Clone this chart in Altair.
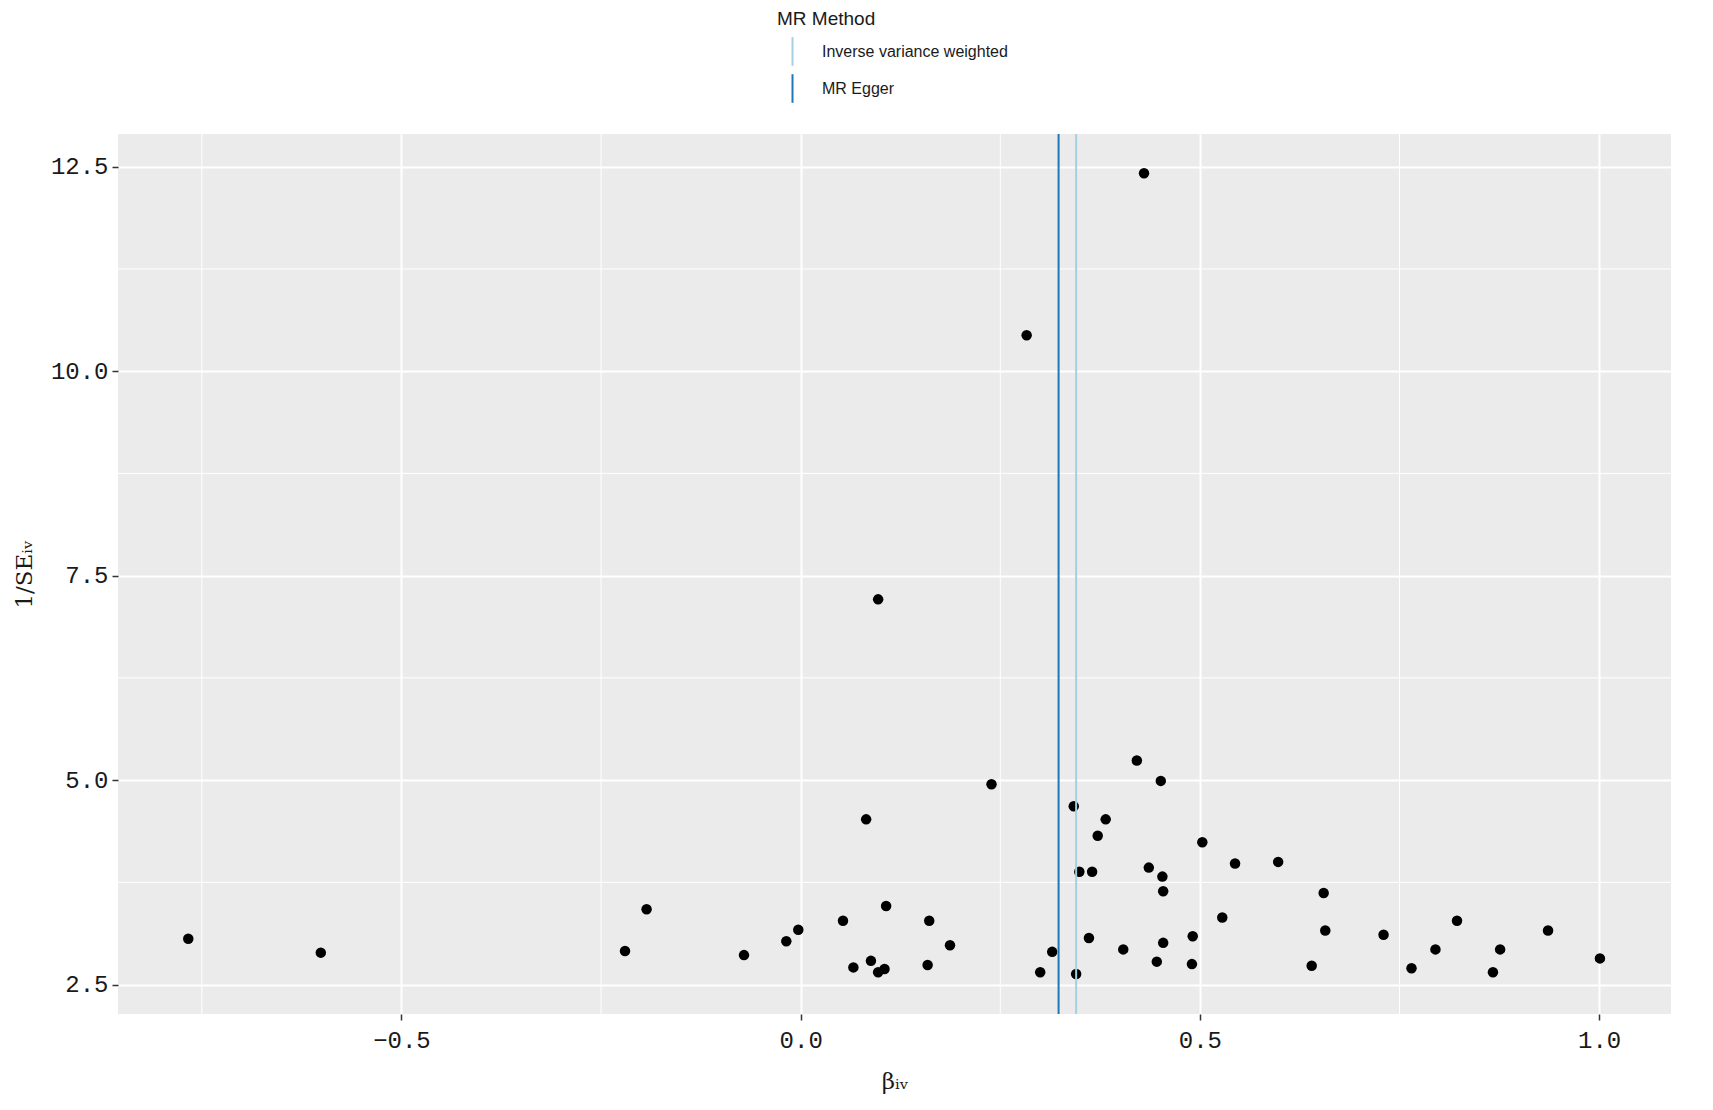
import altair as alt
import pandas as pd

# ---- data ----
beta = [-0.767, -0.601, -0.220, -0.193, -0.071, -0.018, -0.003, 0.053, 0.066, 0.082,
        0.088, 0.097, 0.097, 0.105, 0.107, 0.159, 0.161, 0.187, 0.239, 0.283,
        0.300, 0.315, 0.342, 0.345, 0.349, 0.361, 0.365, 0.372, 0.382, 0.404,
        0.421, 0.430, 0.436, 0.446, 0.451, 0.453, 0.454, 0.454, 0.490, 0.491,
        0.503, 0.528, 0.544, 0.598, 0.640, 0.655, 0.657, 0.730, 0.765, 0.795,
        0.822, 0.867, 0.876, 0.936, 1.001]
inv_se = [3.06, 2.89, 2.91, 3.42, 2.86, 3.03, 3.17, 3.28, 2.71, 4.52,
          2.79, 7.21, 2.65, 2.69, 3.46, 2.74, 3.28, 2.98, 4.95, 10.44,
          2.65, 2.90, 4.68, 2.63, 3.88, 3.07, 3.88, 4.32, 4.52, 2.93,
          5.24, 12.42, 3.93, 2.78, 4.99, 3.82, 3.64, 3.01, 2.75, 3.09,
          4.24, 3.32, 3.98, 4.00, 2.73, 3.62, 3.16, 3.11, 2.70, 2.93,
          3.28, 2.65, 2.93, 3.16, 2.82]
methods = ["Inverse variance weighted", "MR Egger"]
method_b = [0.345, 0.323]
method_colors = ["#A6CEE3", "#1F78B4"]
x_ticks = [-0.5, 0.0, 0.5, 1.0]
y_ticks = [2.5, 5.0, 7.5, 10.0, 12.5]
x_minor = [-0.75, -0.25, 0.25, 0.75]
y_minor = [3.75, 6.25, 8.75, 11.25]

pts = pd.DataFrame({"b": beta, "s": inv_se})
lines = pd.DataFrame({"method": methods, "b": method_b})

xs = alt.Scale(domain=[-0.855, 1.09], nice=False, zero=False)
ys = alt.Scale(domain=[2.14, 12.9], nice=False, zero=False)

x_axis = alt.Axis(title="βᵢᵥ", values=x_ticks, format=".1f", domain=False,
                  tickColor="#333333", tickSize=6, tickWidth=1.5,
                  labelFont="Liberation Mono", labelFontSize=24, labelColor="#1a1a1a",
                  labelPadding=8, titleFont="DejaVu Serif", titleFontSize=23,
                  titleFontWeight="normal", titleColor="#1a1a1a", titlePadding=18,
                  gridColor="white", gridWidth=2)
y_axis = alt.Axis(title="1/SEᵢᵥ", values=y_ticks, format=".1f", domain=False,
                  tickColor="#333333", tickSize=6, tickWidth=1.5,
                  labelFont="Liberation Mono", labelFontSize=24, labelColor="#1a1a1a",
                  labelPadding=4, titleFont="DejaVu Serif", titleFontSize=23,
                  titleFontWeight="normal", titleColor="#1a1a1a", titlePadding=14,
                  gridColor="white", gridWidth=2)

minor_x = alt.Chart(pd.DataFrame({"v": x_minor})).mark_rule(
    color="white", strokeWidth=1).encode(x=alt.X("v:Q", scale=xs, axis=x_axis))
minor_y = alt.Chart(pd.DataFrame({"v": y_minor})).mark_rule(
    color="white", strokeWidth=1).encode(y=alt.Y("v:Q", scale=ys, axis=y_axis))

points = alt.Chart(pts).mark_circle(size=110, color="black", opacity=1).encode(
    x=alt.X("b:Q", scale=xs, axis=x_axis),
    y=alt.Y("s:Q", scale=ys, axis=y_axis),
)

rules = alt.Chart(lines).mark_rule(strokeWidth=2).encode(
    x=alt.X("b:Q", scale=xs, axis=x_axis),
    color=alt.Color("method:N",
                    scale=alt.Scale(domain=methods, range=method_colors),
                    sort=methods,
                    legend=alt.Legend(title="MR Method", orient="none",
                                      legendX=659, legendY=-124,
                                      direction="vertical",
                                      symbolType="M0,-1L0,1", symbolSize=820,
                                      symbolStrokeWidth=2,
                                      labelFont="Liberation Sans", labelFontSize=16,
                                      labelColor="#1a1a1a", labelOffset=14,
                                      labelLimit=0,
                                      titleFont="Liberation Sans", titleFontSize=19,
                                      titleFontWeight="normal", titleColor="#1a1a1a",
                                      titlePadding=7, rowPadding=0)),
)

chart = alt.layer(minor_x, minor_y, points, rules).properties(
    width=1553, height=880,
    autosize=alt.AutoSizeParams(type="none"),
    padding={"left": 110, "top": 126, "right": 34, "bottom": 90},
    background="white",
).configure_view(fill="#EBEBEB", stroke=None)

chart.save("out.html", embed_options={"renderer": "svg", "actions": False})
